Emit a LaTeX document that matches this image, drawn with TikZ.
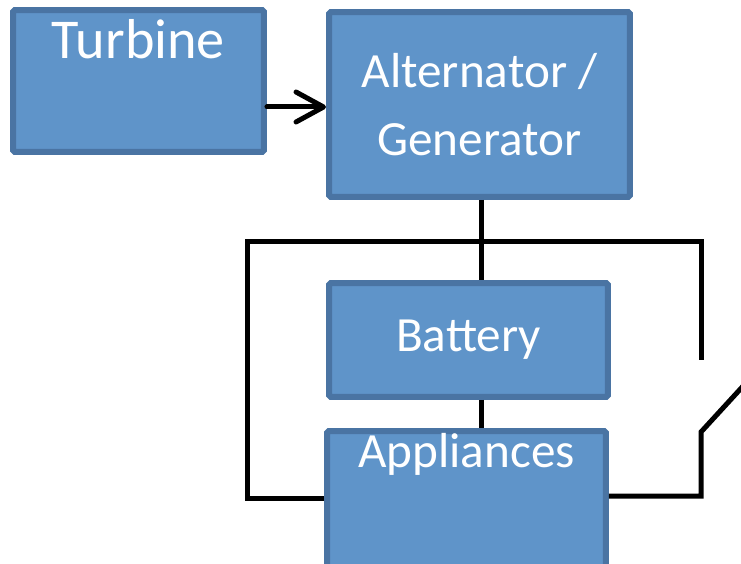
\documentclass[tikz,border=0pt]{standalone}
\usepackage{fontspec}
\setmainfont{Carlito}
\usetikzlibrary{arrows.meta}
\definecolor{boxfill}{HTML}{5F94C9}
\definecolor{boxline}{HTML}{4A74A3}
\tikzset{
  unit/.style={draw=boxline,fill=boxfill,line width=0.12cm,rounded corners=1pt,
    text=white,align=center,inner sep=0pt},
  wire/.style={line width=0.1cm,line join=miter,draw=black},
}
\begin{document}
\begin{tikzpicture}[x=0.02cm,y=-0.02cm,>={Straight Barb[length=0.55cm,width=0.6cm,round]}]
  \useasboundingbox (0,0) rectangle (741,564);
  \clip (0,0) rectangle (741,564);
  \fontsize{28}{39}\selectfont

  \node (turbine) [unit,minimum width=5.02cm,minimum height=2.84cm] at (138.5,81)
    {\fontsize{32}{39}\selectfont Turbine\\[-0.1cm]\strut};
  \node (alternator) [unit,minimum width=6.02cm,minimum height=3.7cm] at (479.5,104.5)
    {Alternator /\\Generator};
  \node (battery) [unit,minimum width=5.58cm,minimum height=2.28cm] at (468.5,340) {Battery};
  \node (appliances) [unit,minimum width=5.58cm,minimum height=2.8cm] at (466.5,501)
    {Appliances\\[0.25cm]\strut};

  \coordinate (busleft) at (247,242);
  \coordinate (busmid) at (481,242);
  \coordinate (busright) at (701,242);
  \coordinate (contact) at (701,360);
  \coordinate (lowleft) at (247,498);
  \coordinate (lowright) at (701,496);
  \coordinate (pivot) at (701,432);
  \coordinate (blade) at (745,384);

  \draw [wire,line cap=round,->] (turbine.east |- 0,107) -- (alternator.west |- 0,107);
  \draw [wire] (alternator.south -| busmid) -- (battery.north -| busmid);
  \draw [wire] (battery.south -| busmid) -- (appliances.north -| busmid);
  \draw [wire] (appliances.west |- lowleft) -- (lowleft) -- (busleft) -- (busright) -- (contact);
  \draw [wire] (appliances.east |- lowright) -- (lowright) -- (pivot) -- (blade);
\end{tikzpicture}
\end{document}
